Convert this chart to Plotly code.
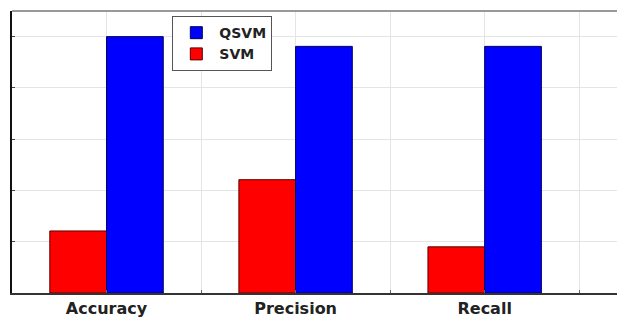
import plotly.graph_objects as go

categories = ["Accuracy", "Precision", "Recall"]
svm_values = [0.242, 0.442, 0.18]
qsvm_values = [1.0, 0.962, 0.962]

xpos = list(range(1, len(categories) + 1))
tickvals = [0.5, 1, 1.5, 2, 2.5, 3, 3.5]
ticktext = ["" if v not in xpos else categories[xpos.index(v)] for v in tickvals]

BOLD = "DejaVu Sans, Liberation Sans, Arial"

fig = go.Figure()
fig.add_trace(go.Bar(x=xpos, y=svm_values, name="SVM",
                     marker=dict(color="#ff0000", line=dict(color="#5a0000", width=1))))
fig.add_trace(go.Bar(x=xpos, y=qsvm_values, name="QSVM",
                     marker=dict(color="#0000ff", line=dict(color="#00005a", width=1))))

fig.update_layout(
    width=617, height=317,
    margin=dict(l=12, r=0, t=11, b=24, autoexpand=False),
    paper_bgcolor="white", plot_bgcolor="white",
    barmode="group", bargap=0.4, bargroupgap=0,
    font=dict(family=BOLD, color="#222"),
    legend=dict(x=0.265, y=0.982, xanchor="left", yanchor="top",
                traceorder="reversed", bgcolor="white",
                bordercolor="#555", borderwidth=1,
                font=dict(size=14, family=BOLD, weight="bold", color="#222"),
                itemwidth=36, tracegroupgap=0),
    xaxis=dict(range=[0.5, 3.7], tickmode="array", tickvals=tickvals, ticktext=ticktext,
               automargin=False,
               showgrid=True, gridcolor="#e4e4e4", gridwidth=1,
               ticks="inside", ticklen=3, tickcolor="#666",
               showline=True, linecolor="#333", linewidth=1.5,
               tickfont=dict(size=16, family=BOLD, weight="bold", color="#222"),
               zeroline=False),
    yaxis=dict(range=[0, 1.1], tickvals=[0, 0.2, 0.4, 0.6, 0.8, 1.0],
               automargin=False,
               showticklabels=False, showgrid=True, gridcolor="#e4e4e4", gridwidth=1,
               ticks="inside", ticklen=3, tickcolor="#444",
               showline=True, linecolor="#111", linewidth=2, zeroline=False),
    shapes=[dict(type="line", xref="paper", yref="paper", x0=0, x1=1, y0=1, y1=1,
                 line=dict(color="#777", width=1.5))],
)

fig.write_html("out.html", config={"displayModeBar": False},
               post_script="document.body.style.margin='0';document.body.style.overflow='hidden';")
